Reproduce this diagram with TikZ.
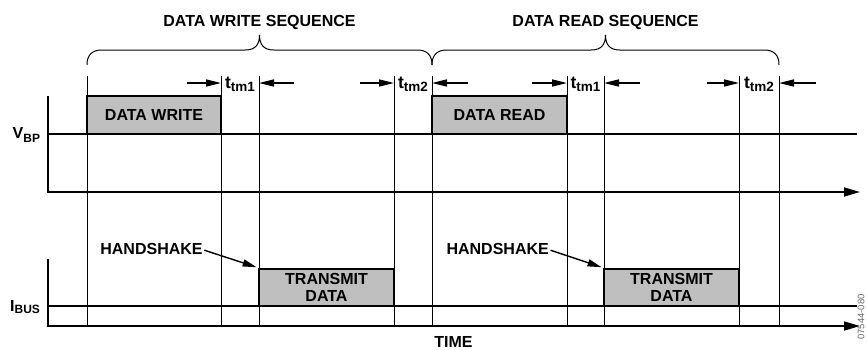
\documentclass[tikz,border=0pt]{standalone}
\usepackage{fontspec}
\setmainfont{Liberation Sans}
\usetikzlibrary{arrows.meta}
\newcommand\ttmlab[1]{{\fontsize{17.5}{17.5}\selectfont t\raisebox{-3pt}{\fontsize{13.5}{13.5}\selectfont #1}}}
\begin{document}
\begin{tikzpicture}[x=1pt,y=-1pt,
  txt/.style={font=\fontsize{16}{16.5}\selectfont\bfseries, inner sep=0pt, align=center},
  pulse/.style={draw=black, line width=2pt, fill=black!25, inner sep=0pt,
    font=\fontsize{16}{16.5}\selectfont\bfseries, align=center},
  gridline/.style={line width=0.9pt},
  levelline/.style={line width=2.1pt},
  axisline/.style={line width=1.7pt, -{Triangle[length=16pt,width=9pt]}},
  tmarrow/.style={line width=1.6pt, -{Triangle[length=15pt,width=7pt]}},
  hsarrow/.style={line width=1.4pt, -{Triangle[length=14pt,width=7pt]}},
  bracestyle/.style={line width=1pt},
  fignum/.style={font=\fontsize{9.5}{9.5}\selectfont, text=black!60, inner sep=0pt, rotate=90},
]
\useasboundingbox (0,0) rectangle (867,349);

% vertical time markers
\foreach \x [count=\i] in {87,221,259,394,432,567,604,739,779} {
  \coordinate (m\i t) at (\x,76);
  \coordinate (m\i b) at (\x,326);
  \draw[gridline] (m\i t) -- (m\i b);
}

% axes
\coordinate (ua0) at (48,96);
\coordinate (ua1) at (48,192);
\coordinate (ua2) at (860,192);
\draw[axisline] (ua0) -- (ua1) -- (ua2);
\coordinate (la0) at (48,259);
\coordinate (la1) at (48,326);
\coordinate (la2) at (860,326);
\draw[axisline] (la0) -- (la1) -- (la2);

% levels
\coordinate (vl0) at (48,134);
\coordinate (vl1) at (857,134);
\draw[levelline] (vl0) -- (vl1);
\coordinate (il0) at (48,306);
\coordinate (il1) at (857,306);
\draw[levelline] (il0) -- (il1);

% pulses
\node[pulse, minimum width=134pt, minimum height=38pt] (dw) at (154,115) {DATA WRITE};
\node[pulse, minimum width=135pt, minimum height=38pt] (dr) at (499.5,115) {DATA READ};
\node[pulse, minimum width=135pt, minimum height=37.3pt] (tx1) at (326.5,287.35) {TRANSMIT\\DATA};
\node[pulse, minimum width=135pt, minimum height=37.3pt] (tx2) at (671.5,287.35) {TRANSMIT\\DATA};

% signal labels
\node[anchor=base west, inner sep=0pt] (vbp) at (12.5,138.3)
  {\fontsize{16}{16}\selectfont\bfseries V\raisebox{-4pt}{\fontsize{12}{12}\selectfont BP}};
\node[anchor=base west, inner sep=0pt] (ibus) at (10,311.7)
  {\fontsize{16}{16}\selectfont\bfseries I\raisebox{-2pt}{\fontsize{12}{12}\selectfont BUS}};
\node[txt] (time) at (453.5,341.8) {TIME};

% sequence braces
\node[txt] (wseq) at (259.5,22) {DATA WRITE SEQUENCE};
\node[txt] (rseq) at (605.5,22) {DATA READ SEQUENCE};
\coordinate (wb0) at (87,65);
\coordinate (wb1) at (432,65);
\coordinate (rb1) at (779,65);
\draw[bracestyle] (wb0) .. controls (87,55) and (92,50) .. (102,50) -- (245,50)
  .. controls (255,50) and (259.5,45) .. (259.5,35)
  .. controls (259.5,45) and (264,50) .. (274,50) -- (417,50)
  .. controls (427,50) and (432,55) .. (wb1);
\draw[bracestyle] (wb1) .. controls (432,55) and (437,50) .. (447,50) -- (591,50)
  .. controls (601,50) and (605.5,45) .. (605.5,35)
  .. controls (605.5,45) and (610,50) .. (620,50) -- (764,50)
  .. controls (774,50) and (779,55) .. (rb1);

% t_tm markers
\foreach \xa/\xb/\xc/\xd/\lab [count=\j] in
  {187/221/259/294/tm1, 360/394/432/468/tm2, 532/567/604/640/tm1, 707/739/779/816/tm2} {
  \coordinate (ta\j) at (\xa,83);
  \coordinate (tb\j) at (\xb,83);
  \coordinate (tc\j) at (\xc,83);
  \coordinate (td\j) at (\xd,83);
  \draw[tmarrow] (ta\j) -- (tb\j);
  \draw[tmarrow] (td\j) -- (tc\j);
  \node[anchor=base, inner sep=0pt, font=\bfseries] (tl\j) at ({(\xb+\xc)/2},88) {\ttmlab{\lab}};
}

% handshake
\node[txt] (hs1) at (151.5,248.7) {HANDSHAKE};
\node[txt] (hs2) at (497.7,248.7) {HANDSHAKE};
\draw[hsarrow, shorten >=1.5pt] ([xshift=1.5pt,yshift=-1.5pt]hs1.east) -- (tx1.north west);
\draw[hsarrow, shorten >=1.5pt] ([xshift=1.5pt,yshift=-1.5pt]hs2.east) -- (tx2.north west);

% figure number
\node[fignum, anchor=east] (fn) at (861,294) {07544-080};
\end{tikzpicture}
\end{document}
